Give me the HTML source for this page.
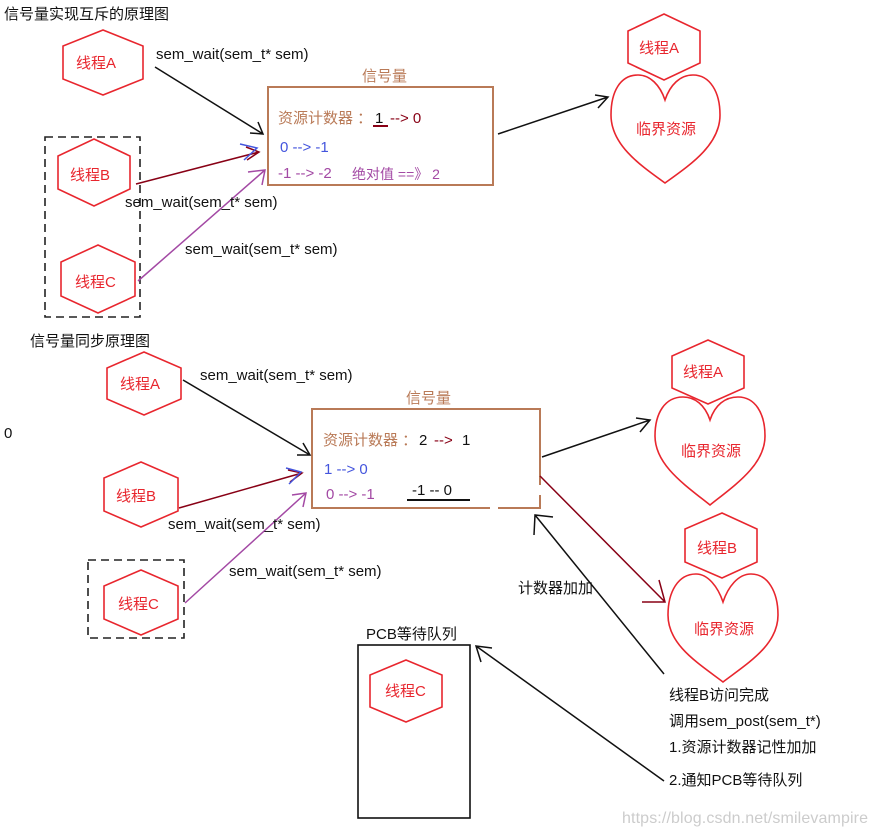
<!DOCTYPE html>
<html><head><meta charset="utf-8"><style>
body{margin:0;background:#fff}
svg text{font-family:"Liberation Sans","Noto Sans CJK SC",sans-serif;font-size:15px}
</style></head><body>
<svg width="871" height="834" xmlns="http://www.w3.org/2000/svg">
<g fill="none" stroke="#e8262e" stroke-width="1.6">
<polygon points="103,30 143,46 143,79 103,95 63,79 63,46"/>
<polygon points="94,139 130,156 130,189 94,206 58,189 58,156"/>
<polygon points="98,245 135,262 135,296 98,313 61,296 61,262"/>
<polygon points="144,352 181,368 181,399 144,415 107,399 107,368"/>
<polygon points="141,462 178,478 178,511 141,527 104,511 104,478"/>
<polygon points="141,570 178,586 178,619 141,635 104,619 104,586"/>
<polygon points="406,660 442,675 442,707 406,722 370,707 370,675"/>
<polygon points="664,14 700,31 700,63 664,80 628,63 628,31"/>
<polygon points="708,340 744,356 744,388 708,404 672,388 672,356"/>
<polygon points="722,513 757,529 757,562 722,578 685,562 685,529"/>
<path d="M665,100 C660,85 650,75 638,75 C620,75 611,92 611,115 C611,145 640,165 665,183 C690,165 720,145 720,115 C720,92 710,75 693,75 C680,75 670,85 665,100Z"/>
<path d="M710,420 C705,405 695,397 683,397 C665,397 655,413 655,436 C655,465 685,485 710,505 C735,485 765,465 765,436 C765,413 755,397 738,397 C725,397 715,405 710,420Z"/>
<path d="M723,602 C718,587 708,574 696,574 C678,574 668,592 668,615 C668,645 698,663 723,682 C748,663 778,645 778,615 C778,592 768,574 751,574 C738,574 728,587 723,602Z"/>
</g>
<g fill="none" stroke="#222" stroke-width="1.6" stroke-dasharray="8,5">
<rect x="45" y="137" width="95" height="180"/>
<rect x="88" y="560" width="96" height="78"/>
</g>
<rect x="358" y="645" width="112" height="173" fill="none" stroke="#111" stroke-width="1.6"/>
<rect x="268" y="87" width="225" height="98" fill="none" stroke="#b97a57" stroke-width="2"/>
<path d="M540,495 V508 H312 V409 H540 V485" fill="none" stroke="#b97a57" stroke-width="2"/>
<line x1="490" y1="508" x2="498" y2="508" stroke="#fff" stroke-width="3"/>
<g fill="none" stroke-width="1.5">
<path d="M155,67 L263,134 M250,133 L263,134 L258,122" stroke="#111"/>
<path d="M136,184 L259,152 M246,147 L259,152 L247,160" stroke="#880015"/>
<path d="M240,144 L257,148 L244,160" stroke="#4455dd"/>
<path d="M138,281 L265,170 M248,172 L265,170 L262,185" stroke="#a349a4"/>
<path d="M498,134 L608,97 M595,95 L608,97 L598,108" stroke="#111"/>
<path d="M183,380 L310,455 M297,455 L310,455 L303,443" stroke="#111"/>
<path d="M179,508 L302,473 M288,470 L302,473 L290,482" stroke="#880015"/>
<path d="M286,468 L301,472 L289,484" stroke="#4455dd"/>
<path d="M185,603 L306,493 M292,495 L306,493 L303,507" stroke="#a349a4"/>
<path d="M542,457 L650,420 M636,418 L650,420 L640,432" stroke="#111"/>
<path d="M540,476 L665,602 M642,602 L665,602 L659,580" stroke="#880015"/>
<path d="M664,674 L535,515 M534,535 L535,515 L553,517" stroke="#111"/>
<path d="M664,781 L476,646 M481,662 L476,646 L492,648" stroke="#111"/>
</g>
<g fill="#e8262e">
<text x="76" y="68">线程A</text><text x="70" y="180">线程B</text><text x="75" y="287">线程C</text>
<text x="120" y="389">线程A</text><text x="116" y="501">线程B</text><text x="118" y="609">线程C</text>
<text x="385" y="696">线程C</text>
<text x="639" y="53">线程A</text><text x="683" y="377">线程A</text><text x="697" y="553">线程B</text>
<text x="636" y="134">临界资源</text><text x="681" y="456">临界资源</text><text x="694" y="634">临界资源</text>
</g>
<g fill="#111">
<text x="4" y="19">信号量实现互斥的原理图</text>
<text x="30" y="346">信号量同步原理图</text>
<text x="4" y="438">0</text>
<text x="156" y="59">sem_wait(sem_t* sem)</text>
<text x="125" y="207">sem_wait(sem_t* sem)</text>
<text x="185" y="254">sem_wait(sem_t* sem)</text>
<text x="200" y="380">sem_wait(sem_t* sem)</text>
<text x="168" y="529">sem_wait(sem_t* sem)</text>
<text x="229" y="576">sem_wait(sem_t* sem)</text>
<text x="366" y="639">PCB等待队列</text>
<text x="518" y="593">计数器加加</text>
<text x="669" y="700">线程B访问完成</text>
<text x="669" y="726">调用sem_post(sem_t*)</text>
<text x="669" y="752">1.资源计数器记性加加</text>
<text x="669" y="785">2.通知PCB等待队列</text>
</g>
<text x="362" y="81" fill="#b97a57">信号量</text>
<text x="406" y="403" fill="#b97a57">信号量</text>
<text x="278" y="123" fill="#b97a57">资源计数器 ：</text>
<text x="375" y="123" fill="#111">1</text><line x1="373" y1="126" x2="388" y2="126" stroke="#880015" stroke-width="2"/>
<text x="390" y="123" fill="#880015">--&gt; 0</text>
<text x="280" y="152" fill="#4455dd">0 --&gt; -1</text>
<text x="278" y="178" fill="#a349a4">-1 --&gt; -2</text>
<text x="352" y="179" fill="#a349a4" style="font-size:14px">绝对值 ==》 2</text>
<text x="323" y="445" fill="#b97a57">资源计数器 ：</text>
<text x="419" y="445" fill="#111">2</text><text x="434" y="445" fill="#880015">--&gt;</text><text x="462" y="445" fill="#111">1</text>
<text x="324" y="474" fill="#4455dd">1 --&gt; 0</text>
<text x="326" y="499" fill="#a349a4">0 --&gt; -1</text>
<text x="412" y="495" fill="#111">-1  -- 0</text>
<line x1="407" y1="500" x2="470" y2="500" stroke="#111" stroke-width="2"/>
<text x="622" y="823" fill="#ccc" style="font-size:16px" textLength="246">https://blog.csdn.net/smilevampire</text>
</svg>
</body></html>
